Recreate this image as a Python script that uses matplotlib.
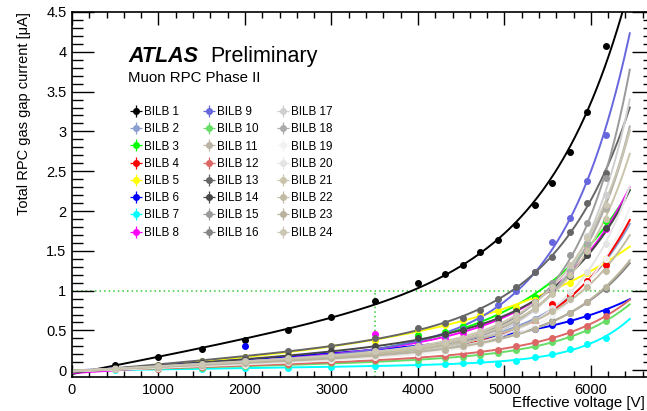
import numpy as np
import matplotlib
matplotlib.use("Agg")
import matplotlib.pyplot as plt
from matplotlib.lines import Line2D
from matplotlib.legend import Legend
from matplotlib.ticker import MultipleLocator, FormatStrFormatter

plt.rcParams['font.family'] = ['Liberation Sans', 'DejaVu Sans']

# ---------------- data ----------------
voltage = [500, 1000, 1500, 2000, 2500, 3000, 3500, 4000, 4310, 4520, 4720,
           4930, 5140, 5350, 5550, 5760, 5960, 6170]

names = [f"BILB {i}" for i in range(1, 25)]

colors = ["#000000", "#8c9fd0", "#00ff00", "#ff0000", "#ffff00", "#0000ff",
          "#00ffff", "#ff00ff", "#6666dd", "#66dd66", "#bab2a2", "#dd6666",
          "#666666", "#474747", "#9a9a9a", "#858585", "#cfcfcf", "#ababab",
          "#f2f2f2", "#e4e4e4", "#c9c4aa", "#c2bca4", "#b9b39e", "#cbc7b4"]

bilb1 = [0.07, 0.16, 0.27, 0.38, 0.51, 0.67, 0.87, 1.10, 1.21, 1.32, 1.48, 1.64, 1.83, 2.08, 2.35, 2.74, 3.25, 4.07]
bilb2 = [0.02, 0.04, 0.07, 0.10, 0.13, 0.17, 0.21, 0.27, 0.31, 0.36, 0.42, 0.48, 0.55, 0.64, 0.76, 0.92, 1.12, 1.38]
bilb3 = [0.01, 0.03, 0.06, 0.09, 0.13, 0.18, 0.25, 0.44, 0.48, 0.55, 0.64, 0.63, 0.78, 0.92, 1.08, 1.30, 1.59, 1.88]
bilb4 = [0.01, 0.03, 0.05, 0.08, 0.11, 0.14, 0.18, 0.22, 0.26, 0.30, 0.35, 0.45, 0.52, 0.62, 0.83, 0.95, 1.12, 1.32]
bilb5 = [0.02, 0.06, 0.11, 0.16, 0.23, 0.30, 0.37, 0.52, 0.57, 0.63, 0.70, 0.74, 0.80, 0.88, 1.00, 1.10, 1.22, 1.40]
bilb6 = [0.02, 0.05, 0.08, 0.30, 0.15, 0.19, 0.25, 0.30, 0.34, 0.37, 0.40, 0.44, 0.48, 0.52, 0.57, 0.62, 0.68, 0.75]
bilb7 = [0.00, 0.01, 0.02, 0.03, 0.03, 0.04, 0.05, 0.08, 0.08, 0.09, 0.11, 0.08, 0.12, 0.16, 0.20, 0.27, 0.33, 0.41]
bilb8 = [0.01, 0.03, 0.06, 0.09, 0.13, 0.20, 0.45, 0.33, 0.40, 0.47, 0.55, 0.64, 0.72, 0.86, 1.02, 1.21, 1.50, 1.78]
bilb9 = [0.02, 0.05, 0.08, 0.11, 0.15, 0.20, 0.27, 0.38, 0.44, 0.52, 0.66, 0.82, 1.00, 1.23, 1.61, 1.91, 2.38, 2.96]
bilb10 = [0.01, 0.02, 0.03, 0.05, 0.07, 0.09, 0.11, 0.13, 0.15, 0.17, 0.19, 0.22, 0.26, 0.30, 0.35, 0.42, 0.50, 0.62]
bilb11 = [0.02, 0.04, 0.07, 0.10, 0.13, 0.17, 0.21, 0.27, 0.31, 0.36, 0.42, 0.50, 0.62, 0.78, 1.00, 1.30, 1.55, 2.02]
bilb12 = [0.01, 0.02, 0.04, 0.06, 0.08, 0.10, 0.13, 0.16, 0.18, 0.20, 0.23, 0.26, 0.30, 0.35, 0.40, 0.48, 0.56, 0.68]
bilb13 = [0.03, 0.07, 0.12, 0.17, 0.24, 0.31, 0.40, 0.53, 0.59, 0.66, 0.76, 0.89, 1.04, 1.23, 1.42, 1.74, 2.10, 2.48]
bilb14 = [0.02, 0.05, 0.09, 0.13, 0.18, 0.24, 0.31, 0.40, 0.45, 0.51, 0.58, 0.66, 0.75, 0.86, 1.00, 1.18, 1.45, 1.79]
bilb15 = [0.02, 0.05, 0.08, 0.11, 0.14, 0.18, 0.23, 0.30, 0.34, 0.39, 0.45, 0.53, 0.66, 0.85, 1.10, 1.45, 1.85, 2.42]
bilb16 = [0.02, 0.04, 0.07, 0.10, 0.13, 0.16, 0.20, 0.25, 0.28, 0.31, 0.35, 0.40, 0.46, 0.53, 0.62, 0.72, 0.86, 1.02]
bilb17 = [0.02, 0.04, 0.06, 0.09, 0.12, 0.15, 0.19, 0.24, 0.28, 0.33, 0.40, 0.48, 0.60, 0.76, 0.98, 1.28, 1.68, 2.20]
bilb18 = [0.02, 0.04, 0.07, 0.10, 0.13, 0.17, 0.22, 0.28, 0.32, 0.37, 0.43, 0.51, 0.62, 0.78, 0.98, 1.25, 1.60, 2.05]
bilb19 = [0.01, 0.03, 0.05, 0.07, 0.10, 0.13, 0.16, 0.20, 0.23, 0.27, 0.32, 0.38, 0.46, 0.56, 0.70, 0.88, 1.10, 1.40]
bilb20 = [0.01, 0.03, 0.05, 0.08, 0.11, 0.14, 0.18, 0.22, 0.26, 0.30, 0.35, 0.42, 0.51, 0.63, 0.78, 0.98, 1.24, 1.58]
bilb21 = [0.02, 0.04, 0.07, 0.10, 0.14, 0.18, 0.23, 0.29, 0.33, 0.38, 0.45, 0.53, 0.64, 0.78, 0.96, 1.20, 1.50, 1.90]
bilb22 = [0.02, 0.04, 0.07, 0.10, 0.13, 0.17, 0.21, 0.26, 0.30, 0.34, 0.39, 0.45, 0.53, 0.63, 0.75, 0.90, 1.05, 1.25]
bilb23 = [0.02, 0.04, 0.06, 0.09, 0.12, 0.15, 0.19, 0.23, 0.26, 0.30, 0.34, 0.39, 0.45, 0.52, 0.61, 0.72, 0.86, 1.05]
bilb24 = [0.02, 0.05, 0.08, 0.11, 0.15, 0.19, 0.24, 0.30, 0.35, 0.41, 0.49, 0.58, 0.70, 0.86, 1.05, 1.32, 1.66, 2.08]

series = [bilb1, bilb2, bilb3, bilb4, bilb5, bilb6, bilb7, bilb8, bilb9, bilb10,
          bilb11, bilb12, bilb13, bilb14, bilb15, bilb16, bilb17, bilb18,
          bilb19, bilb20, bilb21, bilb22, bilb23, bilb24]

ref_current = 1.0
ref_voltage = 3500
fit_max = 6450


def fit_curve(v, y, xs):
    """Weighted least-squares fit: p0 + p1*V + p2*(exp(c*V)-1)."""
    x = np.asarray(v, float) / 1000.0
    y = np.asarray(y, float)
    sig = 0.02 + 0.08 * np.abs(y)
    best = None
    for c in np.linspace(0.2, 3.5, 166):
        A = np.column_stack([np.ones_like(x), x, np.expm1(c * x)])
        coef, *_ = np.linalg.lstsq(A / sig[:, None], y / sig, rcond=None)
        r = np.sum(((A @ coef - y) / sig) ** 2)
        if best is None or r < best[0]:
            best = (r, c, coef)
    _, c, coef = best
    xx = xs / 1000.0
    return coef[0] + coef[1] * xx + coef[2] * np.expm1(c * xx)


# ---------------- figure ----------------
W, H = 647, 411
fig = plt.figure(figsize=(W / 100, H / 100), dpi=100)
ax_l, ax_r, ax_t, ax_b = 72, 654, 12, 377
ax = fig.add_axes([ax_l / W, 1 - ax_b / H, (ax_r - ax_l) / W, (ax_b - ax_t) / H])
xmax, ymin = 6730, -0.085
ax.set_xlim(0, xmax)
ax.set_ylim(ymin, 4.5)

xs = np.linspace(0, fit_max, 400)
handles = []
for name, col, ys in zip(names, colors, series):
    ax.plot(xs, fit_curve(voltage, ys, xs), color=col, lw=1.4, zorder=2)
    ax.plot(voltage, ys, 'o', color=col, ms=4, mec=col, zorder=3)
    h = (Line2D([], [], ls='', marker='o', ms=4, color=col),
         Line2D([], [], ls='', marker='+', ms=9, mew=0.9, color=col))
    handles.append(h)

# reference lines
ax.plot([0, xmax], [ref_current, ref_current], ls=(0, (1, 2)), color='#33cc33', lw=1.1, zorder=1)
ax.plot([ref_voltage, ref_voltage], [ymin, ref_current], ls=(0, (1, 2)), color='#33cc33', lw=1.1, zorder=1)

# axes styling
ax.xaxis.set_major_locator(MultipleLocator(1000))
ax.xaxis.set_minor_locator(MultipleLocator(200))
ax.yaxis.set_major_locator(MultipleLocator(0.5))
ax.yaxis.set_minor_locator(MultipleLocator(0.1))
ax.yaxis.set_major_formatter(FormatStrFormatter('%g'))
ax.tick_params(which='both', direction='in', top=True, right=True, width=1.0, color='black')
ax.tick_params(axis='x', which='major', length=9, labelsize=10.5, pad=4)
ax.tick_params(axis='x', which='minor', length=4.5)
ax.tick_params(axis='y', which='major', length=16, labelsize=10.5, pad=4)
ax.tick_params(axis='y', which='minor', length=8)
for s in ax.spines.values():
    s.set_linewidth(1.2)

ax.set_ylabel('Total RPC gas gap current [\u03bcA]', fontsize=10.5, loc='top', labelpad=11)

fig.text(645 / W, 1 - 406.5 / H, 'Effective voltage [V]', ha='right', va='baseline', fontsize=10.8)

fig.text(128 / W, 1 - 62 / H, 'ATLAS', fontsize=15.5, fontweight='bold', fontstyle='italic', va='baseline')
fig.text(210 / W, 1 - 62 / H, 'Preliminary', fontsize=15.5, va='baseline')
fig.text(128 / W, 1 - 82 / H, 'Muon RPC Phase II', fontsize=10.8, va='baseline')

# legend: three columns of eight entries
col_x = [131, 204, 278]
for k in range(3):
    sl = slice(8 * k, 8 * k + 8)
    leg = Legend(ax, handles[sl], names[sl], loc='upper left', frameon=False,
                 bbox_to_anchor=(col_x[k] / W, 1 - 106 / H), bbox_transform=fig.transFigure,
                 fontsize=8.4, handlelength=0.9, handletextpad=0.25, labelspacing=0.45,
                 borderpad=0, borderaxespad=0)
    ax.add_artist(leg)

fig.savefig('out.png', dpi=100)
